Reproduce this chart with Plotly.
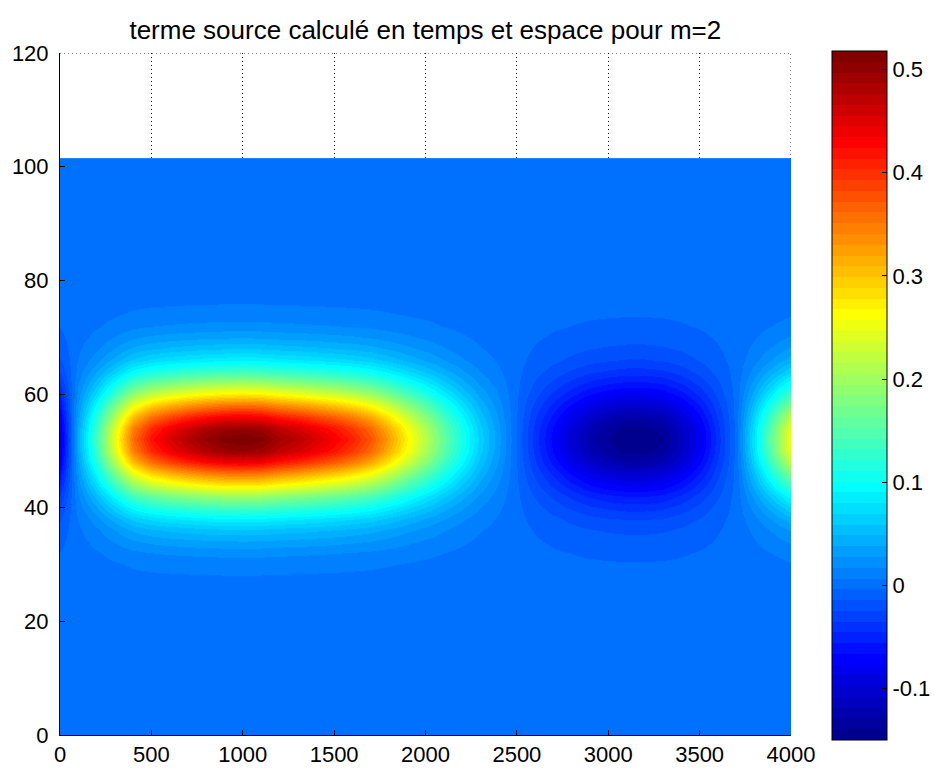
import math
import numpy as np
import plotly.graph_objects as go

# ---- data ----
time_pts = [0, 100, 200, 300, 400, 500, 600, 700, 800, 900, 1000,
            1100, 1200, 1300, 1400, 1500, 1600, 1700, 1800, 1900, 2000,
            2100, 2200, 2300, 2400, 2500, 2600, 2700, 2800, 2900, 3000,
            3100, 3200, 3300, 3400, 3500, 3600, 3700, 3800, 3900, 4000]
# amplitude at the centre row (y ~ 52) versus time
temporal = [-0.09, 0.04, 0.14, 0.25, 0.36, 0.42, 0.455, 0.48, 0.50, 0.513, 0.518,
            0.512, 0.49, 0.475, 0.455, 0.435, 0.41, 0.375, 0.325, 0.27, 0.215,
            0.16, 0.11, 0.065, 0.03, -0.005, -0.04, -0.07, -0.10, -0.125, -0.14,
            -0.15, -0.15, -0.14, -0.115, -0.08, -0.04, 0.0, 0.08, 0.17, 0.26]

space_pts = [0, 2, 4, 6, 8, 10, 12, 14, 16, 18, 20, 22, 24, 26, 28, 30, 32, 34,
             36, 38, 40, 42, 44, 46, 48, 50, 52, 54, 56, 58, 60, 62, 64, 66, 68,
             70, 72, 74, 76, 78, 80, 82, 84, 86, 88, 90, 92, 94, 96, 98, 100, 101]
# relative spatial profile (1 at the centre)
spatial = [0, 0, 0, 0, 0, 0, 0, 0, 0, 0, 0, 0, 0.003, 0.006, 0.012, 0.022, 0.04, 0.07,
           0.11, 0.17, 0.26, 0.38, 0.53, 0.69, 0.85, 0.96, 1.0, 0.96, 0.85, 0.69, 0.53,
           0.38, 0.26, 0.17, 0.11, 0.07, 0.04, 0.022, 0.012, 0.006, 0.003, 0, 0, 0,
           0, 0, 0, 0, 0, 0, 0, 0]

z_min, z_max = -0.150, 0.518
x_range = [0, 4000]
y_range = [0, 120]
x_ticks = [0, 500, 1000, 1500, 2000, 2500, 3000, 3500, 4000]
y_ticks = [0, 20, 40, 60, 80, 100, 120]
cb_ticks = [-0.1, 0, 0.1, 0.2, 0.3, 0.4, 0.5]
cb_labels = ["-0.1", "0", "0.1", "0.2", "0.3", "0.4", "0.5"]
title = "terme source calculé en temps et espace pour m=2"

# ---- MATLAB jet(64) colormap as a stepped colorscale ----
def jet(m=64):
    n = math.ceil(m / 4)
    u = np.concatenate([np.arange(1, n + 1) / n, np.ones(n - 1), np.arange(n, 0, -1) / n])
    g = math.ceil(n / 2) - (1 if m % 4 == 1 else 0) + np.arange(1, len(u) + 1)
    r = g + n
    b = g - n
    J = np.zeros((m, 3))
    for col, idxs in enumerate((r, g, b)):
        for idx, val in zip(idxs, u):
            if 1 <= idx <= m:
                J[idx - 1, col] = val
    return J

J = jet(64)
colorscale = []
for i, c in enumerate(J):
    col = "rgb(%d,%d,%d)" % tuple(int(round(v * 255)) for v in c)
    colorscale.append([i / 64, col])
    colorscale.append([(i + 1) / 64, col])

z = np.outer(np.array(spatial), np.array(temporal))

FONT = "Liberation Sans"
plot_l, plot_r, plot_t, plot_b = 60, 790.7, 53, 735
pw, ph = plot_r - plot_l, plot_b - plot_t

fig = go.Figure()
fig.add_trace(go.Heatmap(
    x=time_pts, y=space_pts, z=z,
    zmin=z_min, zmax=z_max, zsmooth="best",
    colorscale=colorscale,
    colorbar=dict(
        xref="container", x=831.7 / 935, xanchor="left",
        yref="paper", y=(plot_b - 51) / ph, yanchor="top",
        lenmode="pixels", len=689, thickness=55,
        xpad=0, ypad=0,
        outlinewidth=1, outlinecolor="black",
        ticks="inside", ticklen=5, tickcolor="black",
        tickvals=cb_ticks, ticktext=cb_labels,
        tickfont=dict(family=FONT, size=22, color="black"),
    ),
    hoverinfo="skip",
))

# dotted grid lines at the upper and right edges of the axes
fig.add_shape(type="line", xref="x", yref="y", x0=x_range[0], x1=x_range[1],
              y0=y_range[1], y1=y_range[1], layer="below",
              line=dict(color="black", width=1, dash="1px,3px"))
fig.add_shape(type="line", xref="x", yref="y", x0=x_range[1], x1=x_range[1],
              y0=y_range[0], y1=y_range[1], layer="below",
              line=dict(color="black", width=1, dash="1px,3px"))

axis_common = dict(
    showline=True, linecolor="black", linewidth=1,
    ticks="inside", ticklen=5, tickcolor="black",
    showgrid=True, gridcolor="black", gridwidth=1, griddash="1px,3px",
    zeroline=False,
    tickfont=dict(family=FONT, size=22, color="black"),
)

fig.update_xaxes(range=x_range, tickvals=x_ticks, **axis_common)
fig.update_yaxes(range=y_range, tickvals=y_ticks, ticklabelstandoff=6, **axis_common)

fig.update_layout(
    width=935, height=778,
    margin=dict(l=plot_l, r=935 - plot_r, t=plot_t, b=778 - plot_b),
    paper_bgcolor="white", plot_bgcolor="white",
    title=dict(text=title, x=(plot_l + plot_r) / 2 / 935, xanchor="center",
               yref="container", y=1 - 30 / 778, yanchor="middle",
               font=dict(family=FONT, size=26, color="black")),
    showlegend=False,
)

fig.write_html("out.html")
